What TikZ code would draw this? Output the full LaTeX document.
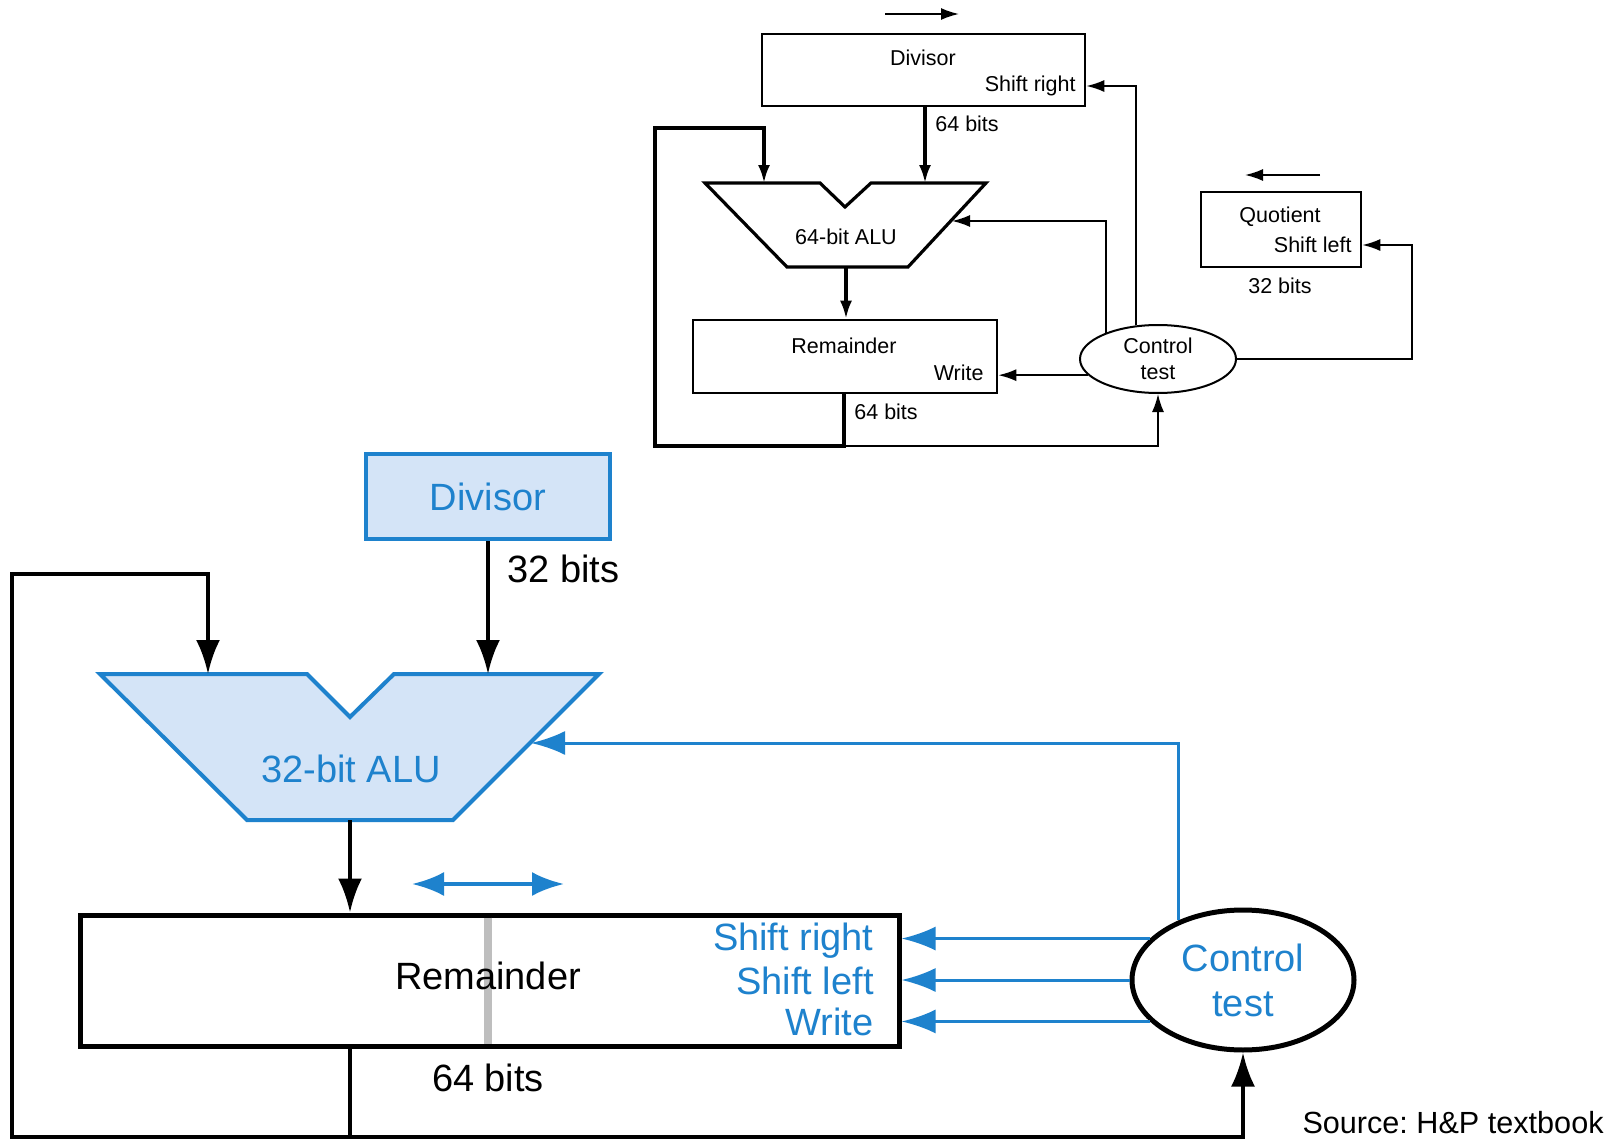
\documentclass[tikz,border=0pt]{standalone}
\usepackage{fontspec}
\setmainfont{Liberation Sans}
\usepackage{xcolor}
\usetikzlibrary{arrows.meta,positioning,shapes.geometric,calc}

\definecolor{hpblue}{RGB}{30,130,205}
\definecolor{hpfill}{RGB}{212,228,247}
\definecolor{hpgrey}{RGB}{190,190,190}
\frenchspacing

\begin{document}
\begin{tikzpicture}[x=0.5pt,y=-0.5pt,
    small/.style={font=\fontsize{10.75}{13}\selectfont, inner sep=1pt},
    big/.style={font=\fontsize{19}{22.5}\selectfont, inner sep=1pt},
    sbox/.style={draw, line width=1.3pt, inner sep=0pt},
    tbus/.style={line width=1.6pt},
    tarr/.style={-{Latex[length=9pt,width=6pt]}, line width=0.9pt},
    barr/.style={-{Latex[length=17pt,width=12pt]}, line width=2pt},
    carr/.style={hpblue, -{Latex[length=17pt,width=12pt]}, line width=1.5pt}]
  \fill[white] (0,0) rectangle (1614,1140);
  \useasboundingbox (0,0) rectangle (1614,1140);

  % ---- upper figure: first version ----
  \node[sbox, minimum width=161.5pt, minimum height=36pt] (tDiv) at (923.5,70) {};
  \node[small] (tDivName) at (923,58) {Divisor};
  \node[small, anchor=east] (tDivShift) at (1078,86) {Shift right};
  \node[small, anchor=west] (tDivBits) at (933,124) {64 bits};
  \coordinate (tMoveA) at (885,14);
  \coordinate (tMoveB) at (959,14);
  \draw[tarr] (tMoveA) -- (tMoveB);

  % ALU
  \draw[tbus] (705,183) -- (820,183) -- (845,207) -- (871,183) -- (986,183)
    -- (908,267) -- (787,267) -- cycle;
  \node[small] (tAluName) at (846,237) {64-bit ALU};
  \coordinate (tAluInL) at (764,183);
  \coordinate (tAluInR) at (925,183);
  \coordinate (tAluOut) at (846,267);
  \coordinate (tAluCtl) at (952,221);
  \draw[tarr, tbus] (tDiv.south -| tAluInR) -- (tAluInR);

  \node[sbox, minimum width=152pt, minimum height=36.5pt] (tRem) at (845,356.5) {};
  \node[small] (tRemName) at (844,346) {Remainder};
  \node[small, anchor=east] (tRemWrite) at (986,373) {Write};
  \node[small, anchor=west] (tRemBits) at (852,412) {64 bits};
  \draw[tarr, tbus] (tAluOut) -- (tAluOut |- tRem.north);

  \node[sbox, minimum width=80pt, minimum height=37.5pt] (tQuot) at (1281,229.5) {};
  \node[small] (tQuotName) at (1280,217) {Quotient};
  \node[small, anchor=east] (tQShift) at (1354,245) {Shift left};
  \node[small] (tQuotBits) at (1280,286) {32 bits};
  \coordinate (tLeftA) at (1320,175);
  \coordinate (tLeftB) at (1245,175);
  \draw[tarr] (tLeftA) -- (tLeftB);

  \node[draw, ellipse, line width=1pt, minimum width=78pt, minimum height=34pt,
    small, align=center] (tCtl) at (1158,359) {Control\\test};

  % feedback and control lines
  \coordinate (tLoop) at (844,446);
  \draw[tbus, -{Latex[length=9pt,width=6pt]}] (tRem.south -| tLoop) -- (tLoop)
    -| (655,128) -| (tAluInL);
  \draw[tarr] (tLoop) -| (tCtl.south);
  \draw[tarr] (tCtl.193) -- (tCtl.193 -| tRem.east);
  \draw[tarr] (tCtl.153) |- (tAluCtl);
  \draw[tarr] (tCtl.123) |- (tDivShift -| tDiv.east);
  \draw[tarr] (tCtl.east) -- ++(175,0) |- (tQShift -| tQuot.east);

  % ---- lower figure: improved version ----
  \node[draw=hpblue, fill=hpfill, line width=2pt, minimum width=122pt,
    minimum height=42.5pt, big, text=hpblue] (bDiv) at (488,496.5) {Divisor};
  \node[big, anchor=west] (bDivBits) at (505,569) {32 bits};

  \draw[hpblue, fill=hpfill, line width=2pt] (100,674) -- (307,674) -- (350,717)
    -- (394,674) -- (599,674) -- (453,820) -- (247,820) -- cycle;
  \node[big, text=hpblue] (bAluName) at (351,769) {32-bit ALU};
  \coordinate (bAluInL) at (208,674);
  \coordinate (bAluInR) at (488,674);
  \coordinate (bAluOut) at (350,820);
  \coordinate (bAluCtl) at (531,743);
  \draw[barr] (bDiv.south) -- (bAluInR);

  \node[draw, line width=2.5pt, minimum width=409.5pt, minimum height=65.5pt] (bRem) at (489.5,980.5) {};
  \draw[hpgrey, line width=4pt, shorten <=2.5pt, shorten >=2.5pt] (bRem.north -| 488,0) -- (bRem.south -| 488,0);
  \node[big] (bRemName) at (488,976) {Remainder};
  \node[big, text=hpblue, anchor=east] (bShR) at (876,941) {Shift right};
  \node[big, text=hpblue, anchor=east] (bShL) at (876,981) {Shift left};
  \node[big, text=hpblue, anchor=east] (bWr) at (876,1022) {Write};
  \node[big] (bRemBits) at (488,1078) {64 bits};
  \draw[barr] (bAluOut) -- (bAluOut |- bRem.north);

  \coordinate (bShiftA) at (412,884);
  \coordinate (bShiftB) at (564,884);
  \draw[hpblue, line width=2pt, {Latex[length=16pt,width=12pt]}-{Latex[length=16pt,width=12pt]}] (bShiftA) -- (bShiftB);

  \node[draw, ellipse, line width=2.5pt, minimum width=111pt, minimum height=70pt,
    big, text=hpblue, align=center] (bCtl) at (1243,980) {Control\\test};

  \draw[carr] (bCtl.156) -- (bCtl.156 -| bRem.east);
  \draw[carr] (bCtl.west) -- (bCtl.west -| bRem.east);
  \draw[carr] (bCtl.204) -- (bCtl.204 -| bRem.east);
  \draw[carr] (bCtl.137) |- (bAluCtl);

  \coordinate (bLoop) at (350,1137);
  \draw[barr] (bRem.south -| bLoop) -- (bLoop) -| (12,574) -| (bAluInL);
  \draw[barr] (bLoop) -| (bCtl.south);

  \node[font=\fontsize{15.3}{18}\selectfont, anchor=east, inner sep=1pt] (src) at (1606,1123) {Source: H\&P textbook};
\end{tikzpicture}
\end{document}
